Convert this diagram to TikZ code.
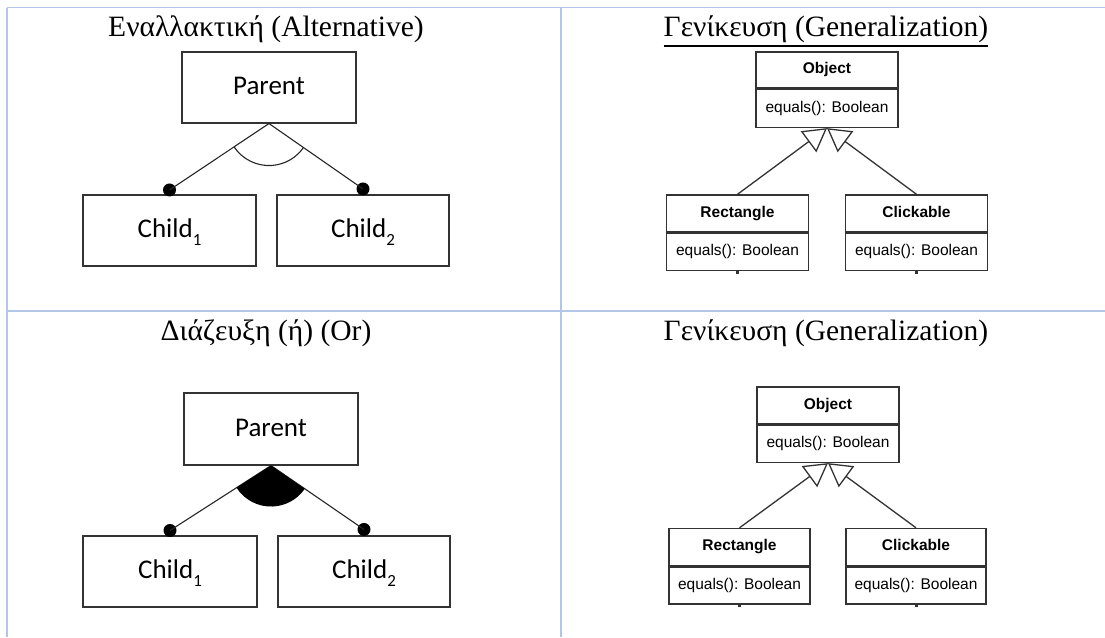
\documentclass[tikz,border=0pt]{standalone}
\usepackage{fontspec}
\setmainfont{Liberation Serif}
\newfontfamily\umlfont{Liberation Sans}
\newfontfamily\featfont{Carlito}
\usetikzlibrary{arrows.meta,calc}
\definecolor{gridblue}{HTML}{B4C6E7}
\definecolor{ink}{HTML}{333333}
% lowered index used in the feature labels
\newcommand{\featidx}[1]{\raisebox{-0.28em}{\fontsize{17}{18}\selectfont #1}}

\begin{document}
\begin{tikzpicture}[x=1pt,y=1pt,
  grid/.style={draw=gridblue,line width=1.5pt},
  title/.style={anchor=base,inner sep=0pt,font=\fontsize{29.5}{34}\selectfont},
  featbox/.style={draw=ink,line width=1.1pt,minimum width=174pt,minimum height=71pt,
    inner sep=0pt,text height=18pt,text depth=4pt,font=\featfont\fontsize{27}{30}\selectfont},
  dotnode/.style={circle,fill=black,minimum size=13pt,inner sep=0pt},
  tie/.style={draw=black!85,line width=1.1pt},
  umlpart/.style={draw=ink,line width=1.4pt,minimum width=142pt,inner sep=0pt,
    text height=11pt,text depth=3.5pt,font=\umlfont\fontsize{15.5}{18}\selectfont},
  umlname/.style={umlpart,minimum height=37pt,font=\umlfont\bfseries\fontsize{15.5}{18}\selectfont},
  umlop/.style={umlpart,minimum height=37pt,anchor=north},
  gen/.style={draw=ink,line width=1.3pt,
    -{Triangle[open,length=23pt,width=26pt,line width=1.3pt]}},
  stub/.style={draw=ink,line width=3pt}
]
\useasboundingbox (0,0) rectangle (1105,-637);
\fill[white] (0,0) rectangle (1105,-637);

% table rules
\draw[grid] (7,-7.5) -- (1105,-7.5);
\draw[grid] (7,-311) -- (1105,-311);
\draw[grid] (7,-7.5) -- (7,-637);
\draw[grid] (561,-7.5) -- (561,-637);

% ---------- alternative group ----------
\node[title] (t1) at (266,-36) {Εναλλακτική (Alternative)};
\node[featbox] (par1) at (269,-87.5) {Parent};
\node[featbox,minimum width=173pt] (ca1) at (169.5,-230.5) {Child\featidx{1}};
\node[featbox,minimum width=172pt] (cb1) at (363,-230.5) {Child\featidx{2}};
\node[dotnode] (da1) at ([yshift=4.5pt]ca1.north) {};
\node[dotnode] (db1) at ([yshift=5.5pt]cb1.north) {};
\draw[tie] (par1.south) -- (da1.center);
\draw[tie] (par1.south) -- (db1.center);
\draw[tie] let \p1=($(da1)-(par1.south)$), \p2=($(db1)-(par1.south)$),
  \n1={atan2(\y1,\x1)}, \n2={atan2(\y2,\x2)} in
  ($(par1.south)+(\n1:42)$) arc[start angle=\n1,end angle=\n2,radius=42];

% ---------- or group ----------
\node[title] (t3) at (266,-340) {Διάζευξη (ή) (Or)};
\node[featbox,minimum height=72pt] (par2) at (271,-429) {Parent};
\node[featbox] (ca2) at (170,-571.5) {Child\featidx{1}};
\node[featbox,minimum width=172pt] (cb2) at (364,-571.5) {Child\featidx{2}};
\node[dotnode] (da2) at ([yshift=5pt]ca2.north) {};
\node[dotnode] (db2) at ([yshift=6pt]cb2.north) {};
\draw[tie] (par2.south) -- (da2.center);
\draw[tie] (par2.south) -- (db2.center);
\fill let \p1=($(da2)-(par2.south)$), \p2=($(db2)-(par2.south)$),
  \n1={atan2(\y1,\x1)}, \n2={atan2(\y2,\x2)} in
  (par2.south) -- ($(par2.south)+(\n1:41)$) arc[start angle=\n1,end angle=\n2,radius=41] -- cycle;

% ---------- generalization (upper) ----------
\node[title] (t2) at (826,-36) {Γενίκευση (Generalization)};
\draw[line width=1.2pt] ([yshift=-10pt]t2.base west) -- ([yshift=-10pt]t2.base east);
\node[umlname,minimum height=36pt] (obj1) at (827,-70) {Object};
\node[umlop,minimum height=38pt] (obj1m) at (obj1.south) {equals(): Boolean};
\node[umlname] (rec1) at (737.5,-213.5) {Rectangle};
\node[umlop] (rec1m) at (rec1.south) {equals(): Boolean};
\node[umlname] (clk1) at (916.5,-213.5) {Clickable};
\node[umlop] (clk1m) at (clk1.south) {equals(): Boolean};
\draw[gen] (rec1.north) -- (obj1m.south);
\draw[gen] (clk1.north) -- (obj1m.south);
\draw[stub] (rec1m.south) -- ++(0,-2.5);
\draw[stub] (clk1m.south) -- ++(0,-2.5);

% ---------- generalization (lower) ----------
\node[title] (t4) at (826,-340) {Γενίκευση (Generalization)};
\node[umlname] (obj2) at (828,-405.5) {Object};
\node[umlop] (obj2m) at (obj2.south) {equals(): Boolean};
\node[umlname,minimum width=141pt] (rec2) at (739.5,-547) {Rectangle};
\node[umlop,minimum width=141pt] (rec2m) at (rec2.south) {equals(): Boolean};
\node[umlname,minimum width=140pt] (clk2) at (916,-547) {Clickable};
\node[umlop,minimum width=140pt] (clk2m) at (clk2.south) {equals(): Boolean};
\draw[gen] (rec2.north) -- (obj2m.south);
\draw[gen] (clk2.north) -- (obj2m.south);
\draw[stub] (rec2m.south) -- ++(0,-2.5);
\draw[stub] (clk2m.south) -- ++(0,-2.5);
\end{tikzpicture}
\end{document}
